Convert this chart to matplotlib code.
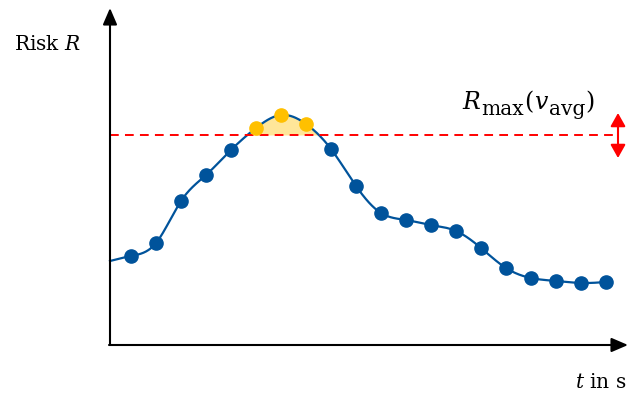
import numpy as np
import matplotlib.pyplot as plt

plt.rcParams['font.family'] = ['DejaVu Serif']
plt.rcParams['mathtext.fontset'] = 'dejavuserif'

# time steps and risk values
t = np.arange(1, 21)
risk = np.array([0.89, 1.02, 1.44, 1.70, 1.95, 2.17, 2.30, 2.21, 1.96, 1.59,
                 1.32, 1.25, 1.20, 1.14, 0.97, 0.77, 0.67, 0.64, 0.62, 0.63])
t_start, risk_start = 0.16, 0.84
r_max = 2.10

blue = '#00539B'
gold = '#FFC000'


def natural_spline(x, y, xs):
    n = len(x)
    h = np.diff(x)
    A = np.zeros((n, n))
    b = np.zeros(n)
    A[0, 0] = A[-1, -1] = 1
    for i in range(1, n - 1):
        A[i, i - 1] = h[i - 1]
        A[i, i] = 2 * (h[i - 1] + h[i])
        A[i, i + 1] = h[i]
        b[i] = 6 * ((y[i + 1] - y[i]) / h[i] - (y[i] - y[i - 1]) / h[i - 1])
    m = np.linalg.solve(A, b)
    k = np.clip(np.searchsorted(x, xs) - 1, 0, n - 2)
    dx = xs - x[k]
    hk = h[k]
    a = (y[k + 1] - y[k]) / hk - hk * (2 * m[k] + m[k + 1]) / 6
    return y[k] + a * dx + m[k] / 2 * dx ** 2 + (m[k + 1] - m[k]) / (6 * hk) * dx ** 3


tx = np.concatenate([[t_start], t])
ry = np.concatenate([[risk_start], risk])
ts = np.linspace(t_start, t[-1], 800)
rs = natural_spline(tx, ry, ts)

fig = plt.figure(figsize=(6.43, 3.97), dpi=100)
ax = fig.add_axes([0, 0, 1, 1])
ax.set_xlim(-4.24, 21.48)
ax.set_ylim(-0.52, 3.45)
ax.axis('off')

# area above the limit
ax.fill_between(ts, r_max, rs, where=rs > r_max, color='#FFE699', lw=0, zorder=1)
ax.plot(ts, rs, color=blue, lw=1.6, zorder=2)

above = risk > r_max
ax.plot(t[~above], risk[~above], 'o', color=blue, ms=9.5, zorder=3)
ax.plot(t[above], risk[above], 'o', color=gold, ms=9.5, zorder=3)

ax.plot([t_start, 20.5], [r_max, r_max], color='red', lw=1.4,
        dashes=(4.5, 3.2), zorder=2)

# axes with arrows
ax.annotate('', xy=(t_start, 3.37), xytext=(t_start, 0),
            arrowprops=dict(arrowstyle='-|>,head_length=1.0,head_width=0.43',
                            mutation_scale=10, lw=1.5, color='black',
                            shrinkA=0, shrinkB=0))
ax.annotate('', xy=(20.88, 0), xytext=(t_start - 0.04, 0),
            arrowprops=dict(arrowstyle='-|>,head_length=1.0,head_width=0.43',
                            mutation_scale=10, lw=1.5, color='black',
                            shrinkA=0, shrinkB=0))

# tolerance arrow
ax.annotate('', xy=(20.48, 2.32), xytext=(20.48, 1.87),
            arrowprops=dict(arrowstyle='<|-|>,head_length=0.8,head_width=0.45',
                            mutation_scale=10, lw=1.5, color='red',
                            shrinkA=0, shrinkB=0))

ax.text(-3.7, 3.0, r'Risk $\mathit{R}$', fontsize=14.5, va='center', ha='left')
ax.text(20.84, -0.38, r'$\mathit{t}$ in s', fontsize=14.5, va='center', ha='right')

# limit label built piece by piece so the subscripts stay large
pieces = [(r'$R$', 17, 0), ('max', 14.5, -4), (r'$($', 17, 0), (r'$v$', 17, 0),
          ('avg', 14.5, -4), (r'$)$', 17, 0)]
renderer = fig.canvas.get_renderer()
x_off = 0.0
for s, size, dy in pieces:
    txt = ax.annotate(s, xy=(14.25, 2.36), xytext=(x_off, dy),
                      textcoords='offset points', fontsize=size,
                      va='baseline', ha='left')
    x_off += txt.get_window_extent(renderer).width * 72 / fig.dpi

fig.savefig('out.png', dpi=100)
